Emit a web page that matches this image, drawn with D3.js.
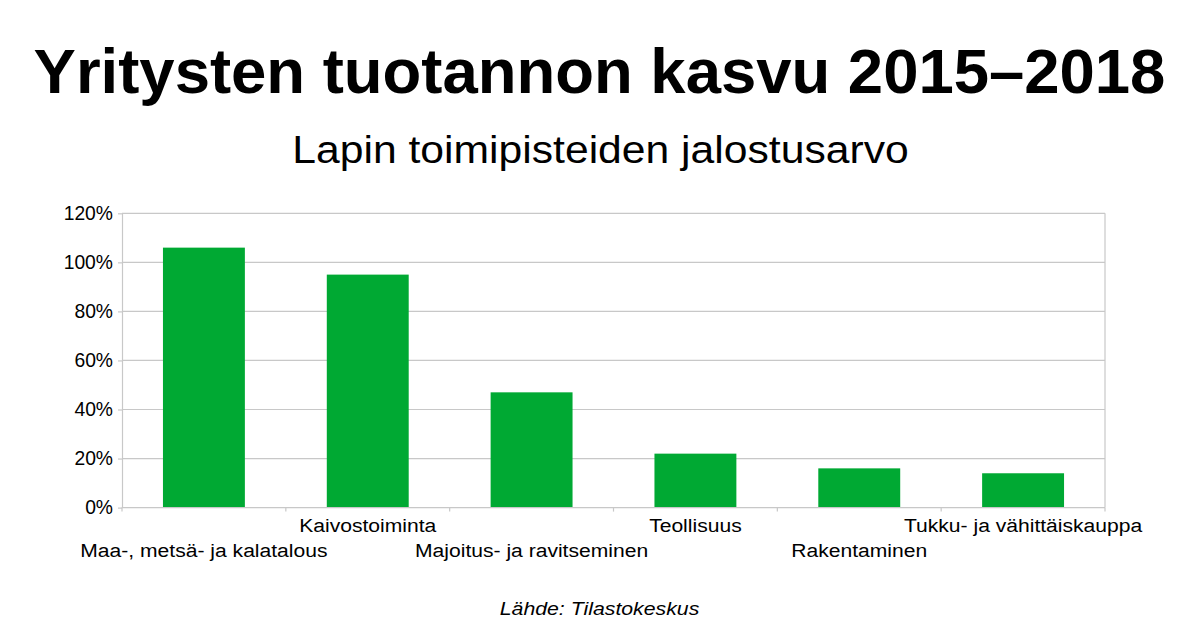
<!DOCTYPE html>
<html>
<head>
<meta charset="utf-8">
<script src="https://cdn.jsdelivr.net/npm/d3@7"></script>
<style>
  html, body { margin: 0; padding: 0; background: #fff; }
  svg { display: block; font-family: "Liberation Sans", Arial, sans-serif; }
</style>
</head>
<body>
<svg id="chart" width="1199" height="628"></svg>
<script>
// Kasvu 2015–2018, % (luettu kuvasta)
const categories = [
  'Maa-, metsä- ja kalatalous',
  'Kaivostoiminta',
  'Majoitus- ja ravitseminen',
  'Teollisuus',
  'Rakentaminen',
  'Tukku- ja vähittäiskauppa'
];
const growth = [106, 95, 47, 22, 16, 14];
const yTicks = [0, 20, 40, 60, 80, 100, 120];

const svg = d3.select('#chart');
const W = 1199;
const plot = { left: 122, right: 1105, top: 213.3, bottom: 507.6 };
const gridColor = '#c8c8c8';

const x = d3.scaleBand()
  .domain(categories)
  .range([plot.left, plot.right])
  .paddingInner(0.5)
  .paddingOuter(0.25);

const y = d3.scaleLinear().domain([0, 120]).range([plot.bottom, plot.top]);

// the source image is a bit wider than tall, so text gets stretched sideways
function label(parent, tx, ty, sx) {
  return parent.append('text')
    .attr('transform', `translate(${tx},${ty}) scale(${sx},1)`)
    .attr('text-anchor', 'middle')
    .attr('fill', '#000');
}

// Titles
label(svg, W / 2, 93, 1.007)
  .attr('font-size', 63).attr('font-weight', 700)
  .text('Yritysten tuotannon kasvu 2015–2018');

label(svg, W / 2 + 1, 163, 1.094)
  .attr('font-size', 39)
  .text('Lapin toimipisteiden jalostusarvo');

// Gridlines
svg.append('g')
  .selectAll('line')
  .data(yTicks.filter(d => d > 0))
  .join('line')
  .attr('x1', plot.left).attr('x2', plot.right)
  .attr('y1', d => y(d)).attr('y2', d => y(d))
  .attr('stroke', gridColor).attr('stroke-width', 1.2);

// Right border of plot
svg.append('line')
  .attr('x1', plot.right).attr('x2', plot.right)
  .attr('y1', plot.top).attr('y2', plot.bottom)
  .attr('stroke', gridColor).attr('stroke-width', 1.2);

// Bars
svg.append('g')
  .selectAll('rect')
  .data(categories)
  .join('rect')
  .attr('x', d => x(d))
  .attr('width', x.bandwidth())
  .attr('y', (d, i) => y(growth[i]))
  .attr('height', (d, i) => y(0) - y(growth[i]))
  .attr('fill', '#00a933');

// Y axis
const yAxis = svg.append('g')
  .attr('transform', `translate(${plot.left},0)`)
  .call(d3.axisLeft(y).tickValues(yTicks).tickFormat(d => d + '%').tickSizeInner(4).tickSizeOuter(0).tickPadding(5));
yAxis.select('.domain').attr('stroke', gridColor).attr('stroke-width', 1.2);
yAxis.selectAll('.tick line').attr('stroke', gridColor).attr('stroke-width', 1.2);
yAxis.selectAll('.tick text')
  .attr('font-size', 19.3).attr('fill', '#000')
  .attr('font-family', '"Liberation Sans", Arial, sans-serif');

// X axis: baseline plus ticks at band boundaries
svg.append('line')
  .attr('x1', plot.left).attr('x2', plot.right)
  .attr('y1', y(0)).attr('y2', y(0))
  .attr('stroke', gridColor).attr('stroke-width', 1.2);

const step = x.step();
const bounds = d3.range(categories.length + 1).map(i => plot.left + i * step);
svg.append('g')
  .selectAll('line')
  .data(bounds)
  .join('line')
  .attr('x1', d => d).attr('x2', d => d)
  .attr('y1', y(0)).attr('y2', y(0) + 4)
  .attr('stroke', gridColor).attr('stroke-width', 1.2);

// Category labels, staggered on two rows
const catG = svg.append('g');
categories.forEach((c, i) => {
  label(catG, x(c) + x.bandwidth() / 2, i % 2 === 0 ? 556.7 : 531.7, 1.11)
    .attr('font-size', 19)
    .text(c);
});

// Source
label(svg, W / 2, 615, 1.12)
  .attr('font-size', 19)
  .attr('font-style', 'italic')
  .text('Lähde: Tilastokeskus');
</script>
</body>
</html>
